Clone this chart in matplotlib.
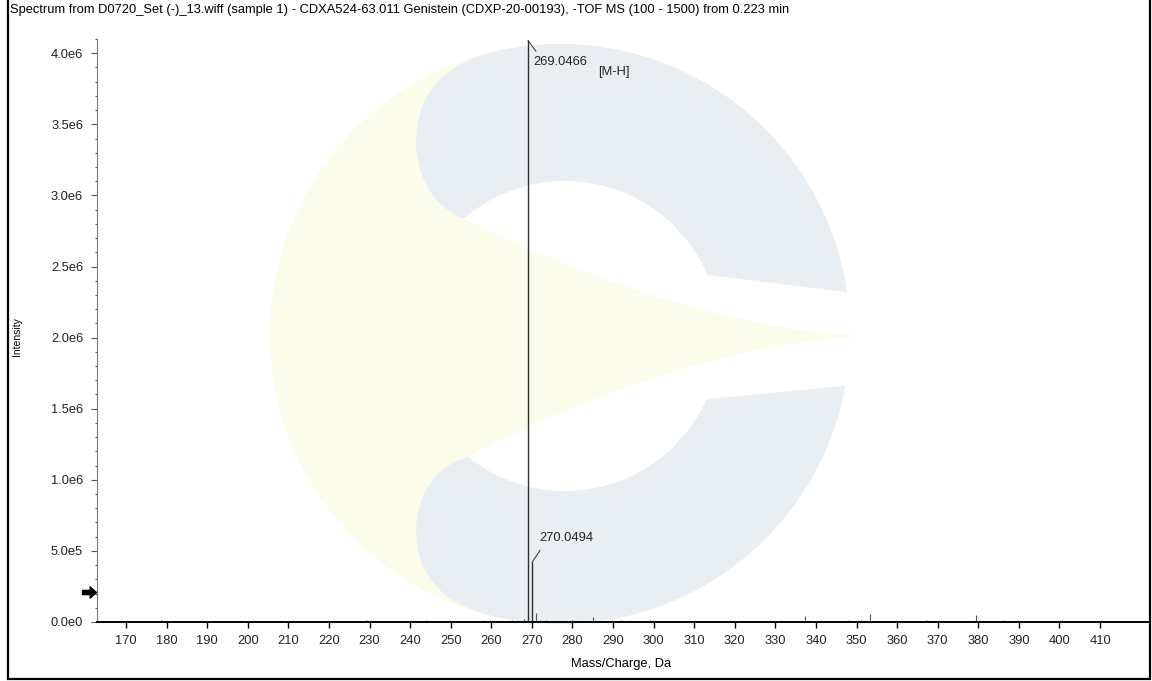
import matplotlib
matplotlib.use("Agg")
import matplotlib.pyplot as plt
from matplotlib.patches import Polygon, Circle, PathPatch
from matplotlib.path import Path
from matplotlib.ticker import MultipleLocator
import numpy as np

plt.rcParams['font.family'] = ['Liberation Sans', 'DejaVu Sans']

title = ("Spectrum from D0720_Set (-)_13.wiff (sample 1) - CDXA524-63.011 Genistein "
         "(CDXP-20-00193), -TOF MS (100 - 1500) from 0.223 min")

# labelled peaks
peak_mz = [269.0466, 270.0494]
peak_int = [4.09e6, 0.42e6]
peak_labels = ["269.0466", "270.0494"]

# small peaks / baseline noise
small_mz = [165.2, 168.9, 172.4, 176.0, 178.7, 182.3, 185.9, 189.1, 193.4, 197.0,
            200.8, 204.2, 207.9, 211.5, 215.0, 218.6, 222.1, 226.0, 229.4, 233.2,
            236.7, 240.3, 243.9, 247.2, 251.0, 254.6, 258.1, 261.7, 265.0, 268.0,
            271.05, 272.05, 273.6, 276.4, 279.8, 283.1, 285.1, 288.4, 292.0, 295.7,
            299.2, 302.6, 306.3, 310.0, 313.5, 317.1, 320.8, 324.3, 327.9, 331.2,
            334.8, 337.3, 341.0, 344.5, 348.1, 351.0, 353.2, 356.8, 360.3, 363.9,
            367.4, 371.0, 374.6, 377.2, 379.5, 382.9, 386.4, 390.0, 393.5, 397.1,
            400.6, 404.2, 407.8, 411.3, 414.9, 418.4, 421.0]
small_int = [0.006e6, 0.009e6, 0.005e6, 0.008e6, 0.011e6, 0.006e6, 0.007e6, 0.010e6, 0.005e6, 0.008e6,
             0.006e6, 0.009e6, 0.007e6, 0.005e6, 0.010e6, 0.006e6, 0.008e6, 0.007e6, 0.011e6, 0.006e6,
             0.009e6, 0.007e6, 0.012e6, 0.006e6, 0.010e6, 0.008e6, 0.013e6, 0.009e6, 0.011e6, 0.022e6,
             0.065e6, 0.016e6, 0.011e6, 0.009e6, 0.012e6, 0.008e6, 0.035e6, 0.010e6, 0.014e6, 0.008e6,
             0.011e6, 0.007e6, 0.009e6, 0.006e6, 0.010e6, 0.008e6, 0.007e6, 0.009e6, 0.006e6, 0.010e6,
             0.008e6, 0.045e6, 0.009e6, 0.007e6, 0.011e6, 0.013e6, 0.055e6, 0.010e6, 0.008e6, 0.009e6,
             0.012e6, 0.007e6, 0.010e6, 0.008e6, 0.047e6, 0.009e6, 0.011e6, 0.007e6, 0.010e6, 0.008e6,
             0.012e6, 0.009e6, 0.010e6, 0.007e6, 0.009e6, 0.008e6, 0.010e6]

xticks = [170, 180, 190, 200, 210, 220, 230, 240, 250, 260, 270, 280, 290,
          300, 310, 320, 330, 340, 350, 360, 370, 380, 390, 400, 410]
yticks = [0, 0.5e6, 1.0e6, 1.5e6, 2.0e6, 2.5e6, 3.0e6, 3.5e6, 4.0e6]
ytick_labels = ["0.0e0", "5.0e5", "1.0e6", "1.5e6", "2.0e6", "2.5e6", "3.0e6", "3.5e6", "4.0e6"]
marker_int = 0.212e6

W, H = 1152, 681
fig = plt.figure(figsize=(W / 100, H / 100), dpi=100)

# background layer in pixel coordinates (watermark + frame)
bg = fig.add_axes([0, 0, 1, 1], zorder=0)
bg.set_xlim(0, W)
bg.set_ylim(H, 0)
bg.axis('off')

blue = '#e9eef3'
yellow = '#fcfcea'
cx, cy, r = 560, 334, 290
bg.add_patch(Circle((cx, cy), r, color=yellow, lw=0))

# blue "C": outer arc, then smooth inner ends
t = np.radians(np.linspace(99, -99, 200))
arc = [(cx + r * np.cos(a), cy - r * np.sin(a)) for a in t]
verts = arc + [(415, 606), (416, 528),
               (420, 474), (462, 459),
               (462, 218),
               (420, 200), (416, 145),
               (415, 62), (arc[0][0], arc[0][1]),
               (0, 0)]
codes = ([Path.MOVETO] + [Path.LINETO] * (len(arc) - 1)
         + [Path.CURVE3, Path.CURVE3, Path.CURVE3, Path.CURVE3, Path.LINETO,
            Path.CURVE3, Path.CURVE3, Path.CURVE3, Path.CURVE3, Path.CLOSEPOLY])
bg.add_patch(PathPatch(Path(verts, codes), color=blue, lw=0))

bg.add_patch(Circle((565, 336), 155, color='white', lw=0))
bg.add_patch(Polygon([(700, 274), (862, 294), (862, 384), (700, 400)], closed=True,
                     color='white', lw=0))

# yellow wedge pointing right
wx = np.linspace(462, 872, 60)
frac = (872 - wx) / 410
upper = np.column_stack([wx, 336 - 118 * frac ** 1.7])
lower = np.column_stack([wx[::-1], 336 + 123 * frac[::-1] ** 1.7])
wedge = np.vstack([[(400, 218)], upper, lower, [(400, 459)]])
bg.add_patch(Polygon(wedge, closed=True, color=yellow, lw=0))

# frame
bg.plot([8, 8, 1150, 1150], [0, 679, 679, 0], color='black', lw=1.6, solid_joinstyle='miter')

fig.text(10 / W, 1 - 10 / H, title, fontsize=9.3, ha='left', va='center')

ax = fig.add_axes([97 / W, (H - 622) / H, (1150 - 97) / W, (622 - 39) / H], zorder=1)
ax.patch.set_alpha(0)

ax.vlines(small_mz, 0, small_int, color='#555555', lw=0.8)
ax.vlines(peak_mz, 0, peak_int, color='#303030', lw=1.0)

# labels with leader lines
ax.annotate('', xy=(peak_mz[0], peak_int[0]), xytext=(8, -11), textcoords='offset pixels',
            arrowprops=dict(arrowstyle='-', lw=0.7, color='#303030', shrinkA=0, shrinkB=0))
ax.annotate(peak_labels[0], xy=(peak_mz[0], peak_int[0]), xytext=(5, -22),
            textcoords='offset pixels', ha='left', va='center', fontsize=9.3, color='#222222')
ax.annotate('[M-H]', xy=(peak_mz[0], peak_int[0]), xytext=(70, -32),
            textcoords='offset pixels', ha='left', va='center', fontsize=9.3, color='#222222')
ax.annotate('', xy=(peak_mz[1], peak_int[1]), xytext=(8, 12), textcoords='offset pixels',
            arrowprops=dict(arrowstyle='-', lw=0.7, color='#303030', shrinkA=0, shrinkB=0))
ax.annotate(peak_labels[1], xy=(peak_mz[1], peak_int[1]), xytext=(7, 24),
            textcoords='offset pixels', ha='left', va='center', fontsize=9.3, color='#222222')

# arrow marker on the y axis
arrow = [(-1, -0.3), (0.1, -0.3), (0.1, -0.8), (1, 0), (0.1, 0.8), (0.1, 0.3), (-1, 0.3), (-1, -0.3)]
ax.plot([-0.0075], [marker_int], marker=arrow, ms=10, color='black', ls='none',
        transform=ax.get_yaxis_transform(), clip_on=False)

ax.set_xlim(162.85, 422.3)
ax.set_ylim(0, 4.1e6)

ax.spines['top'].set_visible(False)
ax.spines['right'].set_visible(False)
ax.spines['bottom'].set_linewidth(1.4)
ax.spines['bottom'].set_color('black')
ax.spines['left'].set_linewidth(0.8)
ax.spines['left'].set_color('#777777')

ax.set_xticks(xticks)
ax.set_xticklabels([str(v) for v in xticks])
ax.set_yticks(yticks)
ax.set_yticklabels(ytick_labels)
ax.yaxis.set_minor_locator(MultipleLocator(1e5))
ax.tick_params(axis='x', direction='out', length=4, width=1, color='black', pad=5,
               labelsize=9.3, labelcolor='#222222')
ax.tick_params(axis='y', which='major', direction='out', length=4, width=0.8,
               color='#555555', pad=6, labelsize=9.3, labelcolor='#222222')
ax.tick_params(axis='y', which='minor', direction='out', length=1.5, width=0.8, color='#555555')

fig.text(17 / W, 1 - 337 / H, 'Intensity', rotation=90, fontsize=7.5, ha='center', va='center')
fig.text(621 / W, 1 - 664 / H, 'Mass/Charge, Da', fontsize=9.3, ha='center', va='center')

fig.savefig('out.png', dpi=100)
